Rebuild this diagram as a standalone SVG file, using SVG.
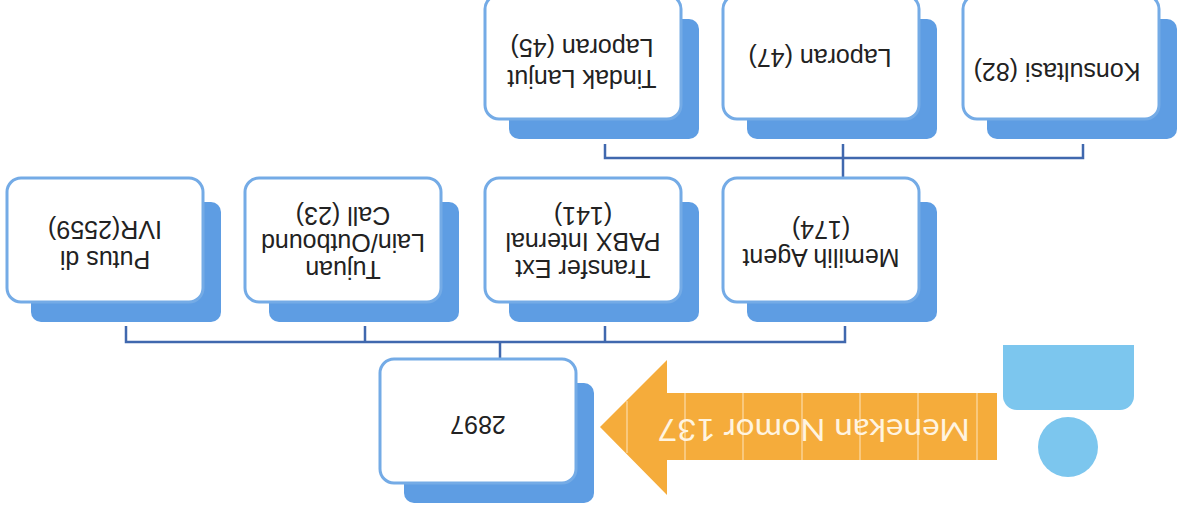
<svg xmlns="http://www.w3.org/2000/svg" width="1178" height="509" viewBox="0 0 1178 509">
<style>
.sh{fill:#5E9DE3}
.bx{fill:#ffffff;stroke:#74ABE6;stroke-width:3}
.t{font-family:"Liberation Sans",Arial,sans-serif;font-size:25px;fill:#222222;text-anchor:middle}
.cn{stroke:#4068AE;stroke-width:2.5;fill:none}
.gl{stroke:#FFF2DA;stroke-width:1.2;opacity:0.7}
</style>
<rect width="1178" height="509" fill="#ffffff"/>
<g transform="rotate(180 589 254.5)">
<g id="connectors">
<path class="cn" d="M95,365 V351 H573 V365 M335,331 V365"/>
<path class="cn" d="M1052,183 V167 H333 V183 M813,183 V167 M573,183 V167 M678,149 V167"/>
</g>
<g id="decor">
<path d="M44,164 V113 A14,14 0 0 1 58,99 H161 A14,14 0 0 1 175,113 V164 Z" fill="#7CC6EE"/>
<circle cx="110" cy="62" r="30" fill="#7CC6EE"/>
</g>
<g id="arrow">
<polygon points="578,82 511,14 511,49 181,49 181,116 511,116 511,149" fill="#F5AC3B"/>
<line class="gl" x1="551" y1="56" x2="551" y2="108"/>
<line class="gl" x1="493" y1="49" x2="493" y2="116"/>
<line class="gl" x1="435" y1="49" x2="435" y2="116"/>
<line class="gl" x1="376" y1="49" x2="376" y2="116"/>
<line class="gl" x1="318" y1="49" x2="318" y2="116"/>
<line class="gl" x1="260" y1="49" x2="260" y2="116"/>
<line class="gl" x1="201" y1="49" x2="201" y2="116"/>
<text x="364" y="90" font-family="Lato,'Open Sans',sans-serif" font-size="30" fill="#FFF4E0" text-anchor="middle" textLength="312" lengthAdjust="spacingAndGlyphs">Menekan Nomor 137</text>
</g>
<g id="n2897">
<rect class="sh" x="584" y="6" width="190" height="120" rx="10"/>
<rect class="bx" x="602" y="26" width="196" height="124" rx="14"/>
<text class="t" x="700" y="93">2897</text>
</g>
<g id="putus">
<rect class="sh" x="957" y="187" width="190" height="120" rx="10"/>
<rect class="bx" x="975" y="207" width="196" height="124" rx="14"/>
<text class="t" x="1073" y="258">Putus di</text>
<text class="t" x="1073" y="288">IVR(2559)</text>
</g>
<g id="tujuan">
<rect class="sh" x="719" y="187" width="190" height="120" rx="10"/>
<rect class="bx" x="737" y="207" width="196" height="124" rx="14"/>
<text class="t" x="835" y="248">Tujuan</text>
<text class="t" x="835" y="275">Lain/Outbound</text>
<text class="t" x="835" y="302">Call (23)</text>
</g>
<g id="transfer">
<rect class="sh" x="479" y="187" width="190" height="120" rx="10"/>
<rect class="bx" x="497" y="207" width="196" height="124" rx="14"/>
<text class="t" x="595" y="249">Transfer Ext</text>
<text class="t" x="595" y="276">PABX Internal</text>
<text class="t" x="595" y="302">(141)</text>
</g>
<g id="memilih">
<rect class="sh" x="241" y="187" width="190" height="120" rx="10"/>
<rect class="bx" x="259" y="207" width="196" height="124" rx="14"/>
<text class="t" x="357" y="260">Memilih Agent</text>
<text class="t" x="357" y="288">(174)</text>
</g>
<g id="tindak">
<rect class="sh" x="479" y="370" width="190" height="120" rx="10"/>
<rect class="bx" x="497" y="390" width="196" height="124" rx="14"/>
<text class="t" x="596" y="439">Tindak Lanjut</text>
<text class="t" x="596" y="470">Laporan (45)</text>
</g>
<g id="laporan">
<rect class="sh" x="241" y="370" width="190" height="120" rx="10"/>
<rect class="bx" x="259" y="390" width="196" height="124" rx="14"/>
<text class="t" x="358" y="460">Laporan (47)</text>
</g>
<g id="konsultasi">
<rect class="sh" x="1" y="370" width="190" height="120" rx="10"/>
<rect class="bx" x="19" y="390" width="196" height="124" rx="14"/>
<text class="t" x="121" y="446">Konsultasi (82)</text>
</g>
</g>
</svg>
